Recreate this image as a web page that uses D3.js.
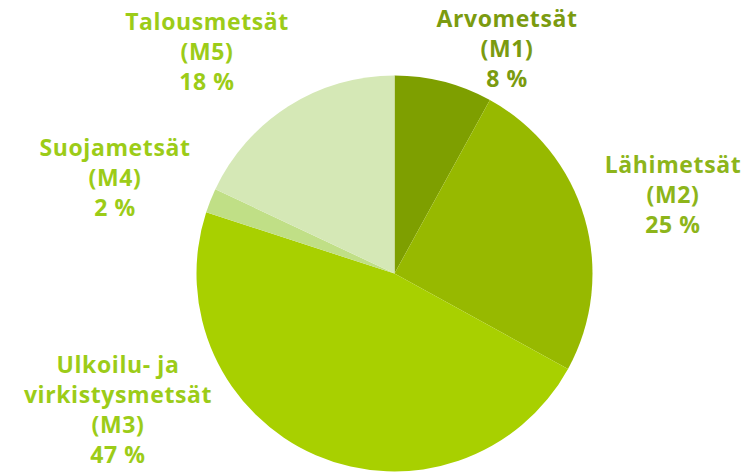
<!DOCTYPE html>
<html>
<head>
<meta charset="utf-8">
<script src="https://cdn.jsdelivr.net/npm/d3@7"></script>
<style>
  body { margin: 0; background: #fff; }
  svg { display: block; }
  .lbl { font-family: "Open Sans", Lato, sans-serif; font-weight: 700; font-size: 23px; letter-spacing: 0.6px; text-anchor: middle; }
</style>
</head>
<body>
<svg id="chart" width="751" height="472"></svg>
<script>
// chart data
var names = ['Arvometsät', 'Lähimetsät', 'Ulkoilu- ja virkistysmetsät', 'Suojametsät', 'Talousmetsät'];
var codes = ['M1', 'M2', 'M3', 'M4', 'M5'];
var shares = [8, 25, 47, 2, 18];

var sliceColors = ['#7e9f00', '#97b900', '#a8d000', '#c0df86', '#d5e8b6'];
var textColors = ['#7b9b10', '#8db51a', '#9ccc18', '#9ccc18', '#9ccc18'];

// label anchors (x, first baseline) and how each name wraps
var labelAt = [[507, 27], [673, 173], [118, 373], [115, 156], [207, 30]];
var nameLines = [['Arvometsät'], ['Lähimetsät'], ['Ulkoilu- ja', 'virkistysmetsät'], ['Suojametsät'], ['Talousmetsät']];
var lineH = 30;

var svg = d3.select('#chart');
var cx = 394.5, cy = 273.5, radius = 198;

var data = shares.map(function(v, i) { return { name: names[i], code: codes[i], value: v, i: i }; });

var pie = d3.pie().sort(null).value(function(d) { return d.value; });
var arc = d3.arc().innerRadius(0).outerRadius(radius);

var g = svg.append('g').attr('transform', 'translate(' + cx + ',' + cy + ')');
g.selectAll('path').data(pie(data))
    .enter().append('path')
    .attr('d', arc)
    .attr('fill', function(d) { return sliceColors[d.data.i]; });

var labels = svg.selectAll('.lbl').data(data)
    .enter().append('text')
    .attr('class', 'lbl')
    .style('fill', function(d) { return textColors[d.i]; })
    .attr('x', function(d) { return labelAt[d.i][0]; })
    .attr('y', function(d) { return labelAt[d.i][1]; });

labels.each(function(d) {
    var t = d3.select(this);
    var lines = nameLines[d.i].concat(['(' + d.code + ')', d.value + ' %']);
    lines.forEach(function(s, k) {
        t.append('tspan')
            .attr('x', labelAt[d.i][0])
            .attr('dy', k === 0 ? 0 : lineH)
            .text(s);
    });
});
</script>
</body>
</html>
